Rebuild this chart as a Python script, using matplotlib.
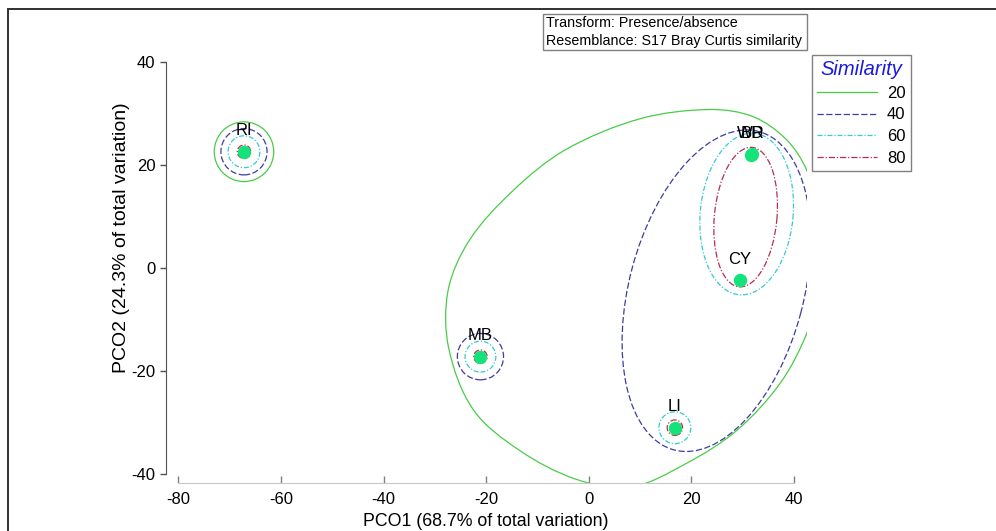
import numpy as np
import matplotlib
matplotlib.use("Agg")
import matplotlib.pyplot as plt
from matplotlib.patches import Circle, Ellipse, Rectangle, PathPatch
from matplotlib.path import Path
from matplotlib.lines import Line2D

plt.rcParams['font.family'] = ['Liberation Sans', 'DejaVu Sans']
plt.rcParams['axes.unicode_minus'] = False

# PCO scores of the sites
site_labels = ["RI", "MB", "LI", "CY", "WR", "BD"]
pco1 = [-67.2, -21.1, 16.8, 29.5, 31.6, 31.8]
pco2 = [22.6, -17.2, -31.0, -2.3, 22.0, 22.1]

# similarity levels of the cluster overlay
levels = [20, 40, 60, 80]
level_colors = ["#48cc48", "#3d3d9e", "#35c8d8", "#b03050"]
level_styles = ["-", (0, (5, 2)), (0, (4, 1.5, 1, 1.5)), (0, (5, 1.5, 1, 1.5))]

# single-site groups: (site, level, radius)
ring_site = ["RI", "RI", "RI", "RI", "MB", "MB", "MB", "LI", "LI"]
ring_level = [20, 40, 60, 80, 40, 60, 80, 60, 80]
ring_radius = [5.8, 4.5, 3.1, 1.3, 4.5, 3.0, 1.3, 3.1, 1.5]

# multi-site groups drawn as ellipses: level, centre, width, height, angle
ell_level = [40, 60, 80]
ell_cx = [24.9, 30.8, 30.6]
ell_cy = [-4.4, 10.5, 9.9]
ell_w = [64.0, 31.5, 27.2]
ell_h = [34.0, 18.1, 12.2]
ell_ang = [75.0, 84.6, 84.6]

# outline of the 20% group holding MB, LI, CY, WR and BD
outline_x = [23.6, 32.1, 38.6, 42.5, 45.0, 45.6, 42.5, 37.3, 28.9, 19.1, 8.0,
             -2.5, -13.5, -22.5, -27.3, -27.4, -23.2, -14.7, -4.5, 10.0]
outline_y = [30.8, 29.4, 24.9, 19.0, 10.0, -2.0, -12.7, -22.4, -31.5, -37.9, -42.6,
             -41.0, -35.4, -27.5, -15.5, -4.3, 5.5, 15.1, 23.0, 29.0]


def closed_curve(xs, ys):
    # chord-scaled Catmull-Rom through the outline, as cubic Bezier segments
    pts = np.column_stack([xs, ys])
    n = len(pts)
    d = np.linalg.norm(np.roll(pts, -1, axis=0) - pts, axis=1)  # p[i] -> p[i+1]
    verts = [pts[0]]
    codes = [Path.MOVETO]
    for i in range(n):
        j, k, m = (i + 1) % n, (i + 2) % n, i - 1
        p0, p1, p2, p3 = pts[m], pts[i], pts[j], pts[k]
        seg = d[i]
        c1 = p1 + (p2 - p0) * seg / (d[m] + d[i]) / 3
        c2 = p2 - (p3 - p1) * seg / (d[i] + d[j]) / 3
        verts += [c1, c2, p2]
        codes += [Path.CURVE4] * 3
    return Path(verts, codes)


def style(level):
    i = levels.index(level)
    return dict(fill=False, ec=level_colors[i], ls=level_styles[i], lw=0.9)


fig = plt.figure(figsize=(9.96, 5.31), dpi=100)
ax = fig.add_axes([165.5 / 996, 1 - 483.3 / 531, 641.2 / 996, 443.3 / 531])
ax.set_xlim(-82.5, 42.5)
ax.set_ylim(-41.8, 44.3)

ax.add_patch(PathPatch(closed_curve(outline_x, outline_y), **style(20)))
for lv, cx, cy, w, h, a in zip(ell_level, ell_cx, ell_cy, ell_w, ell_h, ell_ang):
    ax.add_patch(Ellipse((cx, cy), w, h, angle=a, **style(lv)))
for s, lv, r in zip(ring_site, ring_level, ring_radius):
    i = site_labels.index(s)
    ax.add_patch(Circle((pco1[i], pco2[i]), r, **style(lv)))

ax.plot(pco1, pco2, "o", color="#14e37a", ms=8.6, mec="#14e37a", zorder=5)
for lab, x, y in zip(site_labels, pco1, pco2):
    ax.annotate(lab, (x, y), xytext=(0, 15), textcoords="offset points",
                ha="center", va="center", fontsize=12, zorder=6)

for side in ["top", "right"]:
    ax.spines[side].set_visible(False)
ax.spines["left"].set_bounds(-40, 40)
ax.spines["left"].set_color("#505050")
ax.spines["bottom"].set_bounds(-80, 40)
ax.spines["bottom"].set_color("#c8c8c8")
ax.set_xticks([-80, -60, -40, -20, 0, 20, 40])
ax.set_yticks([-40, -20, 0, 20, 40])
ax.tick_params(axis="x", direction="in", length=5.3, width=1, color="#808080",
               pad=6, labelsize=12)
ax.tick_params(axis="y", direction="out", length=4.3, width=1, color="#505050",
               pad=2.9, labelsize=12)

ax.set_xlabel("PCO1 (68.7% of total variation)", fontsize=12.8, va="center")
ax.xaxis.set_label_coords(0.5, (483.3 - 521.7) / 443.3)
ax.set_ylabel("PCO2 (24.3% of total variation)", fontsize=14, va="center")
ax.yaxis.set_label_coords((122 - 165.5) / 641.2, (483.3 - 238) / 443.3)

handles = [Line2D([], [], color=c, ls=s, lw=0.9) for c, s in zip(level_colors, level_styles)]
leg = fig.legend(handles, [str(v) for v in levels], title="Similarity",
                 loc="upper left", bbox_to_anchor=(812 / 996, 1 - 55 / 531),
                 borderaxespad=0, fancybox=False, edgecolor="#808080",
                 framealpha=1, fontsize=12, handlelength=3.6, handletextpad=0.6,
                 labelspacing=0.4, borderpad=0.3,
                 title_fontproperties={"size": 14.5, "style": "italic"})
leg.get_title().set_color("#1a1ae0")
leg.get_frame().set_linewidth(1)

# resemblance note at the top
fig.patches.append(Rectangle((543 / 996, 1 - 50 / 531), 264 / 996, 36 / 531,
                             transform=fig.transFigure, fill=False,
                             ec="#808080", lw=1))
fig.text(546 / 996, 1 - 23 / 531, "Transform: Presence/absence",
         fontsize=10.3, va="center")
fig.text(546 / 996, 1 - 41.5 / 531, "Resemblance: S17 Bray Curtis similarity",
         fontsize=10.3, va="center")

# outer frame
fig.patches.append(Rectangle((8 / 996, -0.1), 1.2, 1.1 - 9 / 531,
                             transform=fig.transFigure, fill=False,
                             ec="#303030", lw=1.4))

fig.savefig("out.png", dpi=100)
